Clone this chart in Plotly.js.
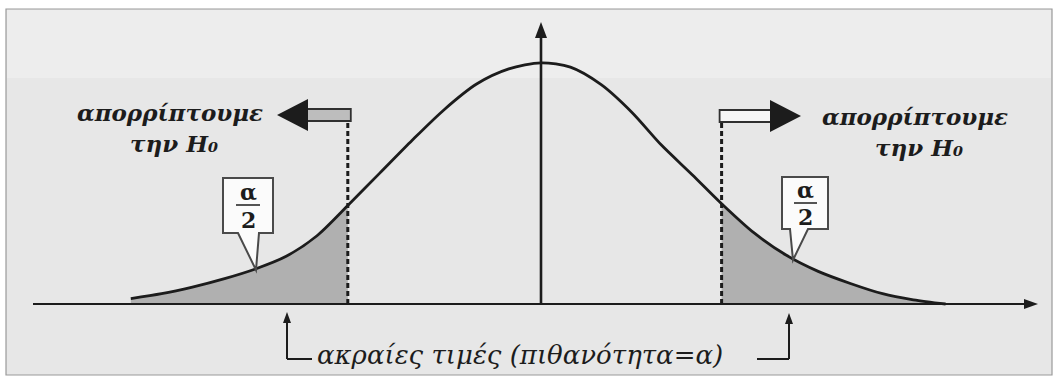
<!DOCTYPE html>
<html>
<head>
<meta charset="utf-8">
<script src="https://cdn.plot.ly/plotly-3.0.1.min.js"></script>
<style>html,body{margin:0;padding:0;background:#fff;}</style>
</head>
<body>
<div id="chart" style="width:1060px;height:381px"></div>
<script>
// Bell curve: positions in standard units and the density read at each one
const zValues = [-2.93,-2.71,-2.49,-2.26,-2.04,-1.82,-1.60,-1.38,-1.15,-0.92,-0.69,-0.46,-0.23,0.00,0.21,0.43,0.65,0.86,1.08,1.29,1.52,1.75,1.98,2.21,2.44,2.66,2.89];
const density = [0.009,0.017,0.028,0.042,0.058,0.079,0.113,0.163,0.217,0.271,0.322,0.364,0.389,0.399,0.392,0.363,0.317,0.263,0.214,0.166,0.118,0.081,0.054,0.034,0.017,0.007,0.000];

// Critical values that bound the two rejection tails
const criticalLeft = -1.38;
const criticalRight = 1.29;

// Texts
const rejectLine1 = 'απορρίπτουμε';
const rejectLine2 = 'την H₀';
const tailNum = 'α';
const tailDen = '2';
const extremeText = 'ακραίες τιμές (πιθανότητα=α)';

// Pixel <-> data helpers (plot area fills the whole 1060x381 canvas)
const W = 1060, H = 381, CX = 541, SX = 140, BASE = 304, SY = 0.001655;
const X = p => (p - CX) / SX;
const Y = p => (BASE - p) * SY;
const PX = z => CX + z * SX;

const ink = '#1c1c1c';
const serif = 'DejaVu Serif';

const leftIdx = zValues.map((z, i) => i).filter(i => zValues[i] <= criticalLeft);
const rightIdx = zValues.map((z, i) => i).filter(i => zValues[i] >= criticalRight);

const traces = [
  {
    x: leftIdx.map(i => zValues[i]), y: leftIdx.map(i => density[i]),
    type: 'scatter', mode: 'lines', fill: 'tozeroy', fillcolor: '#b0b0b0',
    line: {width: 0, shape: 'spline', smoothing: 0.8}, hoverinfo: 'skip'
  },
  {
    x: rightIdx.map(i => zValues[i]), y: rightIdx.map(i => density[i]),
    type: 'scatter', mode: 'lines', fill: 'tozeroy', fillcolor: '#b0b0b0',
    line: {width: 0, shape: 'spline', smoothing: 0.8}, hoverinfo: 'skip'
  },
  {
    x: zValues, y: density, type: 'scatter', mode: 'lines',
    line: {color: ink, width: 2.8, shape: 'spline', smoothing: 0.8}, hoverinfo: 'skip'
  }
];

function path(pts, fill, lineColor, lw) {
  const d = pts.map((p, i) => (i ? 'L' : 'M') + X(p[0]) + ',' + Y(p[1])).join(' ') + ' Z';
  return {type: 'path', xref: 'x', yref: 'y', path: d, fillcolor: fill,
          line: {color: lineColor || fill, width: lw === undefined ? 0 : lw}};
}
function seg(x0, y0, x1, y1, w, dash) {
  return {type: 'line', xref: 'x', yref: 'y', x0: X(x0), y0: Y(y0), x1: X(x1), y1: Y(y1),
          line: {color: ink, width: w, dash: dash || 'solid'}};
}

const cl = PX(criticalLeft), cr = PX(criticalRight);

const shapes = [
  // paper and frame
  {type: 'rect', xref: 'x', yref: 'y', x0: X(6), x1: X(1052), y0: Y(9), y1: Y(375),
   fillcolor: '#e7e7e7', line: {color: '#9a9a9a', width: 1.2}, layer: 'below'},
  {type: 'rect', xref: 'x', yref: 'y', x0: X(7), x1: X(1051), y0: Y(10), y1: Y(78),
   fillcolor: '#ededed', line: {width: 0}, layer: 'below'},

  // horizontal axis with arrowhead
  seg(33, BASE, 1026, BASE, 2),
  path([[1038, BASE], [1024, BASE - 5], [1024, BASE + 5]], ink),
  // vertical axis with arrowhead
  seg(CX, BASE, CX, 34, 2.6),
  path([[CX, 22], [CX - 6, 38], [CX + 6, 38]], ink),

  // dashed bounds of the rejection regions
  seg(cl, BASE, cl, 121, 3, '5px,3px'),
  seg(cr, BASE, cr, 122, 3, '5px,3px'),

  // left block arrow
  {type: 'rect', xref: 'x', yref: 'y', x0: X(305), x1: X(cl + 3), y0: Y(121), y1: Y(109),
   fillcolor: '#bdbdbd', line: {color: '#303030', width: 1.8}},
  path([[277, 115], [308, 99], [308, 131]], ink),
  // right block arrow
  {type: 'rect', xref: 'x', yref: 'y', x0: X(cr - 2), x1: X(774), y0: Y(122), y1: Y(110),
   fillcolor: '#f6f6f6', line: {color: '#303030', width: 1.8}},
  path([[801, 116], [770, 100], [770, 132]], ink),

  // callout boxes for α/2
  path([[223, 178], [273, 178], [273, 233], [259, 233], [256, 270], [238, 233], [223, 233]], '#fbfbfb', '#4a4a4a', 2),
  seg(236, 205, 260, 205, 1.5),
  path([[782, 177], [828, 177], [828, 229], [808, 229], [793, 260], [790, 229], [782, 229]], '#fbfbfb', '#4a4a4a', 2),
  seg(794, 203, 817, 203, 1.5),

  // bracket below the axis pointing to the two tails
  path([[287, 312], [283, 323], [291, 323]], ink),
  seg(287, 322, 287, 359, 2),
  seg(287, 359, 312, 359, 2),
  path([[789, 313], [785, 324], [793, 324]], ink),
  seg(789, 323, 789, 359, 2),
  seg(757, 359, 789, 359, 2)
];

function label(px, py, text, size, weight, style) {
  return {
    xref: 'x', yref: 'y', x: X(px), y: Y(py), text: text, showarrow: false,
    xanchor: 'center', yanchor: 'middle',
    font: {family: serif, size: size, color: ink, weight: weight, style: style}
  };
}

const annotations = [
  label(170, 112, rejectLine1, 23, 'bold', 'italic'),
  label(174, 143, rejectLine2, 23, 'bold', 'italic'),
  label(915, 116, rejectLine1, 23, 'bold', 'italic'),
  label(919, 147, rejectLine2, 23, 'bold', 'italic'),
  label(248, 192, tailNum, 22, 'bold', 'normal'),
  label(248, 220, tailDen, 22, 'bold', 'normal'),
  label(805, 190, tailNum, 22, 'bold', 'normal'),
  label(805, 217, tailDen, 22, 'bold', 'normal'),
  label(520, 355, extremeText, 26, 'normal', 'italic')
];

const layout = {
  width: W, height: H,
  margin: {l: 0, r: 0, t: 0, b: 0},
  paper_bgcolor: '#ffffff', plot_bgcolor: '#ffffff',
  showlegend: false,
  xaxis: {range: [X(0), X(W)], visible: false, fixedrange: true},
  yaxis: {range: [Y(H), Y(0)], visible: false, fixedrange: true},
  shapes: shapes,
  annotations: annotations
};

Plotly.newPlot('chart', traces, layout, {staticPlot: true, displayModeBar: false});
</script>
</body>
</html>
